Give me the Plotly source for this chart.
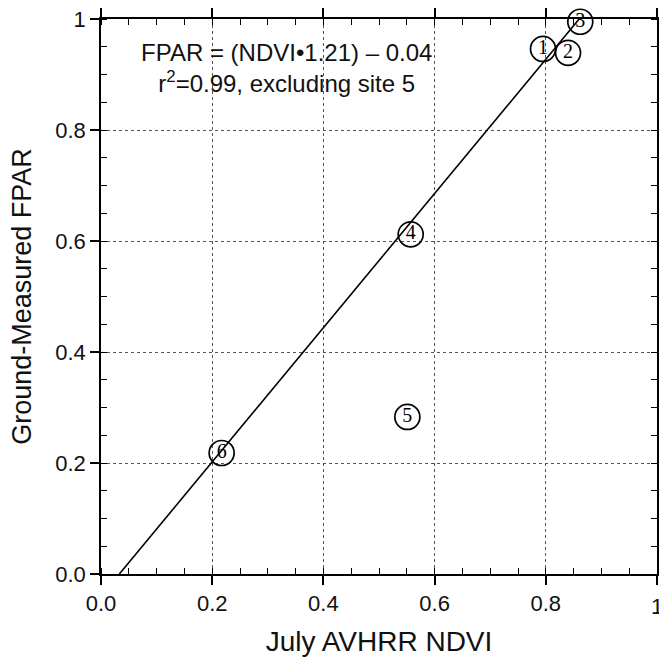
import plotly.graph_objects as go

site_labels = ["1", "2", "3", "4", "5", "6"]
ndvi = [0.795, 0.840, 0.862, 0.557, 0.551, 0.217]
fpar = [0.946, 0.939, 0.995, 0.612, 0.283, 0.218]

fit_x = [0.033, 0.860]
fit_y = [0.0, 1.0]

x_tickvals = [0.0, 0.2, 0.4, 0.6, 0.8]
x_ticktext = ["0.0", "0.2", "0.4", "0.6", "0.8"]
x_edge_val = 1.0
x_edge_text = "1"
y_tickvals = [0.0, 0.2, 0.4, 0.6, 0.8, 1.0]
y_ticktext = ["0.0", "0.2", "0.4", "0.6", "0.8", "1"]

fig = go.Figure()
fig.add_trace(go.Scatter(x=fit_x, y=fit_y, mode="lines",
                         line=dict(color="black", width=1.6),
                         hoverinfo="skip", showlegend=False))
fig.add_trace(go.Scatter(x=ndvi, y=fpar, mode="markers+text",
                         text=site_labels, textposition="middle center",
                         textfont=dict(family="Liberation Serif", size=20, color="black"),
                         marker=dict(symbol="circle-open", size=25,
                                     line=dict(color="black", width=1.7),
                                     color="black"),
                         cliponaxis=False, showlegend=False))

axis_common = dict(
    showline=True, linecolor="black", linewidth=1.5, mirror="ticks",
    ticks="outside", ticklen=9, tickwidth=1.5, tickcolor="black",
    showgrid=True, gridcolor="#555555", griddash="dot", gridwidth=1,
    zeroline=False, automargin=False,
    tickfont=dict(family="Liberation Sans", size=22, color="#111111"),
    minor=dict(dtick=0.05, ticks="inside", ticklen=6, tickwidth=1.2,
               tickcolor="black", showgrid=False),
)

fig.update_xaxes(range=[0, 1], tickvals=x_tickvals + [x_edge_val],
                 ticktext=x_ticktext + [""],
                 title=dict(text="July AVHRR NDVI", standoff=16,
                            font=dict(family="Liberation Sans", size=28, color="#111111")),
                 **axis_common)
fig.update_yaxes(range=[0, 1], tickvals=y_tickvals, ticktext=y_ticktext,
                 title=dict(text="Ground-Measured FPAR", standoff=16,
                            font=dict(family="Liberation Sans", size=27, color="#111111")),
                 **axis_common)

fig.add_annotation(x=x_edge_val, y=0, xref="x", yref="paper",
                   text=x_edge_text, showarrow=False,
                   xanchor="center", yanchor="middle", yshift=-32,
                   font=dict(family="Liberation Sans", size=22, color="#111111"))

fig.add_annotation(x=0.334, y=0.911, xref="x", yref="y",
                   text="FPAR = (NDVI\u20221.21) \u2013 0.04<br>r<sup>2</sup>=0.99, excluding site 5",
                   showarrow=False, align="center",
                   font=dict(family="Liberation Sans", size=24, color="#111111"))

fig.update_layout(width=659, height=660,
                  margin=dict(l=101, r=2, t=19, b=86),
                  plot_bgcolor="white", paper_bgcolor="white")

fig.write_html("out.html")
